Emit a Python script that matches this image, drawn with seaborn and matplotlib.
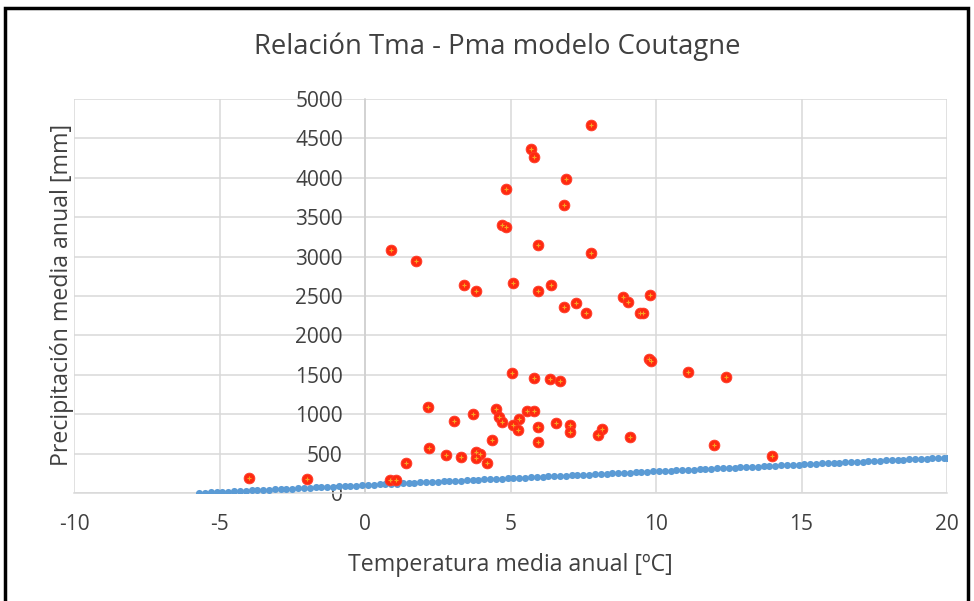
import matplotlib
matplotlib.use("Agg")
import matplotlib.pyplot as plt
import seaborn as sns
import pandas as pd
from matplotlib.patches import Rectangle

# ---- data ----
obs_temp = [7.75, 5.7, 5.8, 6.9, 4.85, 6.85, 4.7, 4.85, 0.9, 5.95, 7.75, 1.75,
            3.4, 3.8, 5.1, 5.95, 6.4, 6.85, 7.25, 7.6, 8.85, 9.05, 9.8, 9.45, 9.55,
            9.75, 9.82, 5.05, 5.8, 6.35, 6.7, 2.15, 3.05, 3.7, 4.5, 4.6, 4.7,
            5.55, 5.8, 5.3, 5.1, 5.25, 5.95, 6.55, 7.05, 7.05, 8.15, 8.0, 9.1,
            5.95, 4.35, 2.2, 2.8, 3.3, 3.8, 3.95, 3.8, 4.2, 1.4, 0.85, 1.05,
            -4.0, -2.0, 11.1, 12.4, 12.0, 14.0]
obs_prec = [4670, 4370, 4260, 3980, 3860, 3655, 3400, 3370, 3090, 3150, 3040, 2940,
            2640, 2560, 2660, 2560, 2640, 2360, 2410, 2280, 2490, 2430, 2510, 2285, 2285,
            1700, 1670, 1520, 1465, 1445, 1415, 1090, 910, 1005, 1065, 970, 905,
            1040, 1040, 935, 865, 805, 840, 885, 865, 780, 810, 735, 710,
            650, 675, 575, 480, 455, 525, 500, 445, 380, 380, 165, 165,
            195, 175, 1540, 1470, 605, 475]

model_temp = [-5.7, -5.5, -5.3, -5.1, -4.9, -4.7, -4.5, -4.3, -4.1, -3.9,
              -3.7, -3.5, -3.3, -3.1, -2.9, -2.7, -2.5, -2.3, -2.1, -1.9,
              -1.7, -1.5, -1.3, -1.1, -0.9, -0.7, -0.5, -0.3, -0.1, 0.1,
              0.3, 0.5, 0.7, 0.9, 1.1, 1.3, 1.5, 1.7, 1.9, 2.1,
              2.3, 2.5, 2.7, 2.9, 3.1, 3.3, 3.5, 3.7, 3.9, 4.1,
              4.3, 4.5, 4.7, 4.9, 5.1, 5.3, 5.5, 5.7, 5.9, 6.1,
              6.3, 6.5, 6.7, 6.9, 7.1, 7.3, 7.5, 7.7, 7.9, 8.1,
              8.3, 8.5, 8.7, 8.9, 9.1, 9.3, 9.5, 9.7, 9.9, 10.1,
              10.3, 10.5, 10.7, 10.9, 11.1, 11.3, 11.5, 11.7, 11.9, 12.1,
              12.3, 12.5, 12.7, 12.9, 13.1, 13.3, 13.5, 13.7, 13.9, 14.1,
              14.3, 14.5, 14.7, 14.9, 15.1, 15.3, 15.5, 15.7, 15.9, 16.1,
              16.3, 16.5, 16.7, 16.9, 17.1, 17.3, 17.5, 17.7, 17.9, 18.1,
              18.3, 18.5, 18.7, 18.9, 19.1, 19.3, 19.5, 19.7, 19.9, 20.0]
model_prec = [0.25, 3.75, 7.25, 10.75, 14.25, 17.75, 21.25, 24.75, 28.25, 31.75,
              35.25, 38.75, 42.25, 45.75, 49.25, 52.75, 56.25, 59.75, 63.25, 66.75,
              70.25, 73.75, 77.25, 80.75, 84.25, 87.75, 91.25, 94.75, 98.25, 101.75,
              105.25, 108.75, 112.25, 115.75, 119.25, 122.75, 126.25, 129.75, 133.25, 136.75,
              140.25, 143.75, 147.25, 150.75, 154.25, 157.75, 161.25, 164.75, 168.25, 171.75,
              175.25, 178.75, 182.25, 185.75, 189.25, 192.75, 196.25, 199.75, 203.25, 206.75,
              210.25, 213.75, 217.25, 220.75, 224.25, 227.75, 231.25, 234.75, 238.25, 241.75,
              245.25, 248.75, 252.25, 255.75, 259.25, 262.75, 266.25, 269.75, 273.25, 276.75,
              280.25, 283.75, 287.25, 290.75, 294.25, 297.75, 301.25, 304.75, 308.25, 311.75,
              315.25, 318.75, 322.25, 325.75, 329.25, 332.75, 336.25, 339.75, 343.25, 346.75,
              350.25, 353.75, 357.25, 360.75, 364.25, 367.75, 371.25, 374.75, 378.25, 381.75,
              385.25, 388.75, 392.25, 395.75, 399.25, 402.75, 406.25, 409.75, 413.25, 416.75,
              420.25, 423.75, 427.25, 430.75, 434.25, 437.75, 441.25, 444.75, 448.25, 450.0]

x_ticks = [-10, -5, 0, 5, 10, 15, 20]
y_ticks = [0, 500, 1000, 1500, 2000, 2500, 3000, 3500, 4000, 4500, 5000]

title = "Relación Tma - Pma modelo Coutagne"
xlabel = "Temperatura media anual [ºC]"
ylabel = "Precipitación media anual [mm]"

# ---- plot ----
sns.set_style("white")
plt.rcParams['font.family'] = ['Open Sans', 'DejaVu Sans']

fig = plt.figure(figsize=(9.74, 6.01), dpi=100)
ax = fig.add_axes([74 / 974, 1 - 493 / 601, (947 - 74) / 974, (493 - 99) / 601])

df_model = pd.DataFrame({"T": model_temp, "P": model_prec})
df_obs = pd.DataFrame({"T": obs_temp, "P": obs_prec})

sns.scatterplot(data=df_model, x="T", y="P", ax=ax, color="#5B9BD5",
                s=26, linewidth=0, zorder=3)
sns.scatterplot(data=df_obs, x="T", y="P", ax=ax, color="#FF2A10",
                s=60, edgecolor="#FF3B2A", linewidth=0.6, zorder=4)
sns.scatterplot(data=df_obs, x="T", y="P", ax=ax, color="#F5A623",
                s=12, marker="+", linewidth=0.8, zorder=5)

ax.set_xlim(-10, 20)
ax.set_ylim(0, 5000)
ax.set_xticks(x_ticks)
ax.set_yticks(y_ticks)
ax.set_xticklabels([str(v) for v in x_ticks])
ax.set_yticklabels([str(v) for v in y_ticks])
ax.grid(True, color="#D9D9D9", linewidth=1.1)
ax.set_axisbelow(True)

for s in ["top", "right"]:
    ax.spines[s].set_visible(False)
ax.spines["bottom"].set_color("#D9D9D9")
ax.spines["bottom"].set_linewidth(1.1)
ax.spines["left"].set_position(("data", 0))
ax.spines["left"].set_color("#CFCFCF")
ax.spines["left"].set_linewidth(1.1)
ax.tick_params(axis="both", length=0, labelsize=15, labelcolor="#404040")
ax.tick_params(axis="y", pad=16)
ax.tick_params(axis="x", pad=15)

ax.set_xlabel("")
ax.set_ylabel("")
fig.text(510 / 974, 1 - 565 / 601, xlabel, ha="center", va="center",
         fontsize=16.7, color="#404040")
fig.text(62 / 974, 1 - 295 / 601, ylabel, ha="center", va="center",
         rotation=90, fontsize=16.7, color="#404040")
fig.text(497 / 974, 1 - 47 / 601, title, ha="center", va="center",
         fontsize=19.8, color="#404040")

# outer chart frame
fig.patches.append(Rectangle((5 / 974, -0.02), (968 - 5) / 974, 1 - 8 / 601 + 0.02,
                             transform=fig.transFigure, fill=False,
                             edgecolor="black", linewidth=2.5))

fig.savefig("out.png", dpi=100)
